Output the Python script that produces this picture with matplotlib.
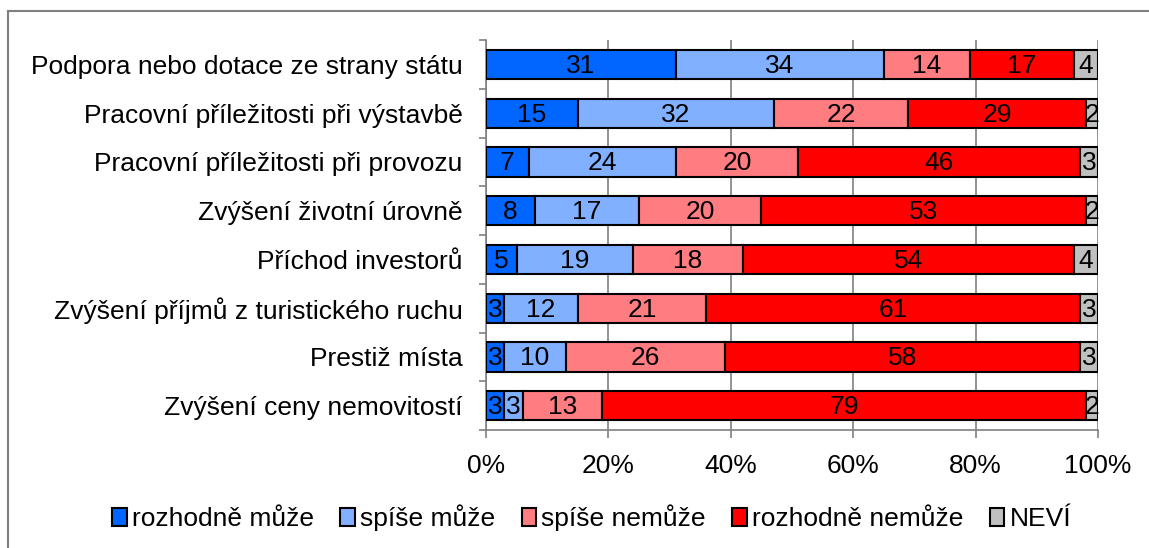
import matplotlib
matplotlib.use("Agg")
import matplotlib.pyplot as plt
from matplotlib.lines import Line2D
import numpy as np

plt.rcParams['font.family'] = ['Liberation Sans', 'DejaVu Sans']

categories = [
    "Podpora nebo dotace ze strany státu",
    "Pracovní příležitosti při výstavbě",
    "Pracovní příležitosti při provozu",
    "Zvýšení životní úrovně",
    "Příchod investorů",
    "Zvýšení příjmů z turistického ruchu",
    "Prestiž místa",
    "Zvýšení ceny nemovitostí",
]
series_names = ["rozhodně může", "spíše může", "spíše nemůže", "rozhodně nemůže", "NEVÍ"]
rozhodne_muze = [31, 15, 7, 8, 5, 3, 3, 3]
spise_muze = [34, 32, 24, 17, 19, 12, 10, 3]
spise_nemuze = [14, 22, 20, 20, 18, 21, 26, 13]
rozhodne_nemuze = [17, 29, 46, 53, 54, 61, 58, 79]
nevi = [4, 2, 3, 2, 4, 3, 3, 2]
xticks = [0, 20, 40, 60, 80, 100]
xtick_labels = ["0%", "20%", "40%", "60%", "80%", "100%"]

colors = ["#0066FF", "#80B0FF", "#FF7C80", "#FF0000", "#C0C0C0"]
data = [rozhodne_muze, spise_muze, spise_nemuze, rozhodne_nemuze, nevi]

FS = 19

fig = plt.figure(figsize=(11.49, 5.48), dpi=100)
ax = fig.add_axes([0.423, 0.2153, 0.5327, 0.7117])

y = np.arange(len(categories))
left = np.zeros(len(categories))
for vals, col, name in zip(data, colors, series_names):
    vals = np.array(vals, dtype=float)
    ax.barh(y, vals, left=left, height=0.6, color=col, edgecolor="black",
            linewidth=1.5, label=name, zorder=3)
    for yi, l, v in zip(y, left, vals):
        ax.text(l + v / 2, yi + 0.03, f"{int(v)}", ha="center", va="center",
                fontsize=FS, color="black", zorder=4)
    left += vals

ax.set_xlim(0, 100)
ax.set_ylim(len(categories) - 0.5, -0.5)
ax.set_xticks(xticks)
ax.set_xticklabels(xtick_labels, fontsize=FS)
ax.set_yticks(y)
ax.set_yticklabels(categories, fontsize=FS)
ax.tick_params(axis="y", length=0, pad=17)
ax.set_yticks(np.arange(-0.5, len(categories), 1), minor=True)
ax.tick_params(axis="y", which="minor", length=5, color="#808080", width=1.2)
ax.tick_params(axis="x", length=6, color="#808080", width=1.2, pad=11)
ax.grid(axis="x", color="#808080", linewidth=1.2, zorder=0)
for s in ["top", "right"]:
    ax.spines[s].set_visible(False)
for s in ["left", "bottom"]:
    ax.spines[s].set_color("#808080")
    ax.spines[s].set_linewidth(1.2)

fig.legend(loc="center", bbox_to_anchor=(0.515, 0.055), ncol=5, frameon=False,
           fontsize=FS, handlelength=0.55, handleheight=0.65, handletextpad=0.2,
           columnspacing=1.0)

W, H = 1149, 548
fig.add_artist(Line2D([8 / W, 1], [1 - 11 / H, 1 - 11 / H], transform=fig.transFigure,
                      color="#808080", linewidth=1.5))
fig.add_artist(Line2D([8 / W, 8 / W], [0, 1 - 11 / H], transform=fig.transFigure,
                      color="#808080", linewidth=1.5))

fig.savefig("out.png", dpi=100)
